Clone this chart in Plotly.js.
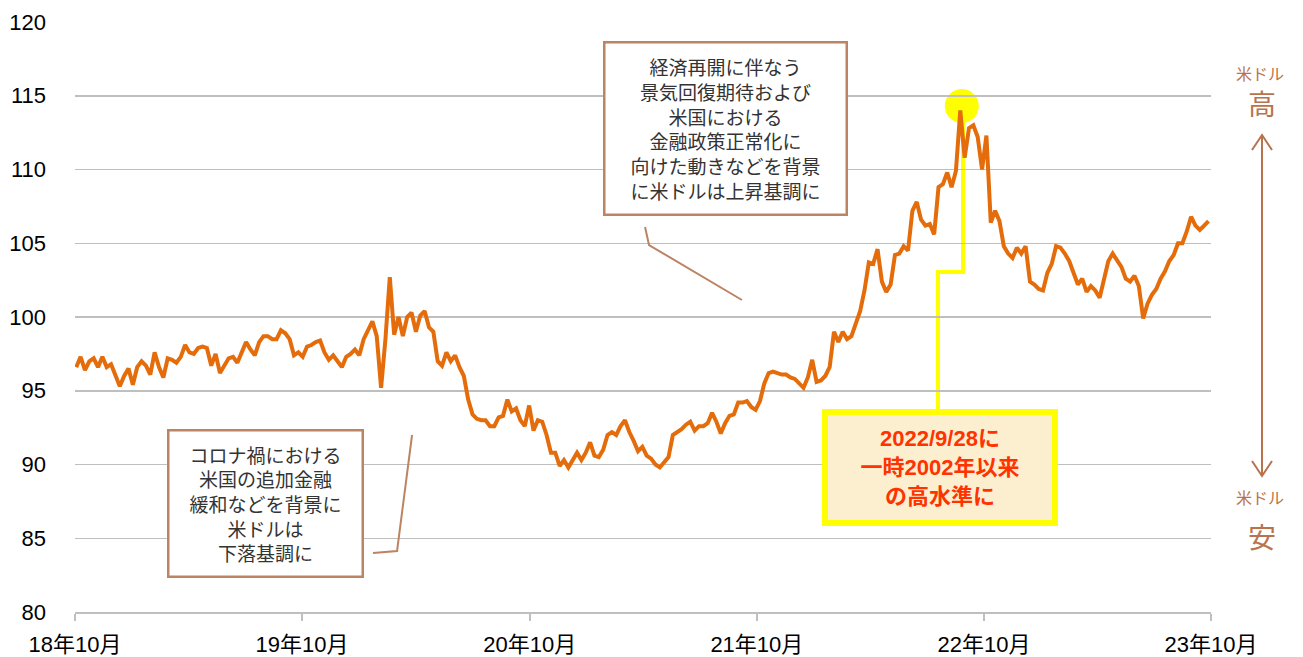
<!DOCTYPE html>
<html>
<head>
<meta charset="utf-8">
<script src="https://cdn.plot.ly/plotly-3.0.1.min.js"></script>
<style>html,body{margin:0;padding:0;background:#fff;}#chart{width:1303px;height:657px;}</style>
</head>
<body>
<div id="chart"></div>
<script>
// Weekly US dollar index readings (Fridays), first week ending 2018-11-02
const startDate = '2018-11-02';
const stepDays = 7;
const dollarIndex = [
  96.6, 97.3, 96.4, 97.0, 97.2, 96.6, 97.3, 96.6, 96.8, 96.0,
  95.3, 96.0, 96.5, 95.4, 96.6, 97.0, 96.7, 96.1, 97.6, 96.6,
  95.9, 97.2, 97.1, 96.9, 97.3, 98.1, 97.6, 97.5, 97.9, 98.0,
  97.9, 96.7, 97.5, 96.2, 96.7, 97.2, 97.3, 96.9, 97.6, 98.3,
  97.8, 97.4, 98.3, 98.7, 98.7, 98.5, 98.5, 99.1, 98.9, 98.5,
  97.4, 97.6, 97.3, 98.0, 98.1, 98.3, 98.4, 97.6, 97.1, 97.4,
  97.0, 96.6, 97.3, 97.5, 97.8, 97.4, 98.5, 99.1, 99.7, 98.7,
  95.2, 98.5, 102.7, 98.8, 100.0, 98.7, 100.0, 100.3, 99.0, 100.1,
  100.4, 99.3, 99.0, 97.0, 96.7, 97.6, 97.0, 97.4, 96.6, 96.0,
  94.4, 93.4, 93.1, 93.0, 93.0, 92.6, 92.6, 93.2, 93.3, 94.4,
  93.6, 93.8, 93.0, 92.6, 94.0, 92.3, 93.0, 92.9, 92.0, 90.8,
  90.8, 89.9, 90.3, 89.8, 90.3, 90.8, 90.3, 90.8, 91.5, 90.6,
  90.5, 91.0, 92.0, 92.2, 92.0, 92.6, 93.0, 92.2, 91.6, 90.9,
  91.2, 90.6, 90.4, 90.0, 89.8, 90.2, 90.5, 92.0, 92.2, 92.4,
  92.7, 92.9, 92.3, 92.6, 92.6, 92.8, 93.5, 92.9, 92.1, 92.8,
  93.3, 93.4, 94.2, 94.2, 94.3, 93.9, 93.7, 94.3, 95.5, 96.2,
  96.3, 96.2, 96.1, 96.1, 95.9, 95.8, 95.5, 95.2, 95.9, 97.1,
  95.6, 95.7, 96.0, 96.6, 99.0, 98.3, 99.0, 98.5, 98.7, 99.6,
  100.4, 101.8, 103.7, 103.6, 104.6, 102.4, 101.7, 102.2, 104.2, 104.3,
  104.8, 104.5, 107.2, 107.8, 106.6, 106.2, 106.3, 105.6, 108.8, 109.0,
  109.8, 108.8, 109.9, 114.0, 110.8, 112.8, 113.0, 112.2, 110.0, 112.3,
  106.4, 107.2, 106.5, 104.8, 104.3, 104.0, 104.7, 104.3, 104.8, 102.4,
  102.2, 101.9, 101.8, 103.0, 103.6, 104.8, 104.7, 104.3, 103.8, 103.0,
  102.2, 102.6, 101.7, 102.1, 101.8, 101.3, 102.5, 103.8, 104.3, 103.8,
  103.4, 102.6, 102.4, 102.8, 102.1, 99.9, 100.9, 101.5, 101.9, 102.6,
  103.1, 103.8, 104.2, 105.0, 105.0, 105.8, 106.8, 106.2, 105.9, 106.2, 106.5
];
const tickDates = ['2018-10-31','2019-10-31','2020-10-31','2021-10-31','2022-10-31','2023-10-31'];
const tickLabels = ['18年10月','19年10月','20年10月','21年10月','22年10月','23年10月'];
const yTicks = [80, 85, 90, 95, 100, 105, 110, 115, 120];

const upperNote = ['経済再開に伴なう','景気回復期待および','米国における','金融政策正常化に','向けた動きなどを背景','に米ドルは上昇基調に'];
const lowerNote = ['コロナ禍における','米国の追加金融','緩和などを背景に','米ドルは','下落基調に'];
const peakNote = ['2022/9/28に','一時2002年以来','の高水準に'];

const t0 = Date.parse(startDate + 'T00:00:00Z');
const dates = dollarIndex.map((_, i) => new Date(t0 + i * stepDays * 86400000).toISOString().slice(0, 10));

let peakIdx = 0;
dollarIndex.forEach((v, i) => { if (v > dollarIndex[peakIdx]) peakIdx = i; });

const brown = '#BC8462';
const brownText = '#B8734C';
const cjk = '"Noto Sans CJK JP", "Noto Sans", sans-serif';
const tickFont = {family: '"Liberation Sans", Arial, "Noto Sans CJK JP", sans-serif', size: 22, color: '#000'};

const trace = {
  x: dates, y: dollarIndex, type: 'scatter', mode: 'lines',
  line: {color: '#E46C0A', width: 4}, hoverinfo: 'x+y'
};

const layout = {
  width: 1303, height: 657,
  margin: {l: 75, r: 92, t: 22, b: 45},
  paper_bgcolor: '#fff', plot_bgcolor: '#fff',
  showlegend: false,
  xaxis: {
    type: 'date', range: [tickDates[0], tickDates[tickDates.length - 1]],
    tickmode: 'array', tickvals: tickDates, ticktext: tickLabels,
    showgrid: false, zeroline: false,
    showline: true, linecolor: '#BFBFBF', linewidth: 1.5,
    ticks: 'outside', ticklen: 7, tickcolor: '#BFBFBF', tickwidth: 1.5,
    tickfont: tickFont, ticklabelstandoff: 5, fixedrange: true
  },
  yaxis: {
    range: [80, 120], tickmode: 'array', tickvals: yTicks, ticktext: yTicks.map(String),
    showgrid: true, gridcolor: '#BFBFBF', gridwidth: 1.5, zeroline: false, showline: false,
    ticks: '', tickfont: tickFont, ticklabelstandoff: 28, fixedrange: true
  },
  annotations: [
    {xref: 'paper', yref: 'paper', x: 0.5722, y: 0.8203, xanchor: 'center', yanchor: 'middle',
     text: upperNote.join('<br>'), showarrow: false, align: 'center',
     font: {family: cjk, size: 19, color: '#333'},
     bgcolor: '#fff', bordercolor: brown, borderwidth: 2.5, borderpad: 0, width: 240, height: 170},
    {xref: 'paper', yref: 'paper', x: 0.1681, y: 0.1831, xanchor: 'center', yanchor: 'middle',
     text: lowerNote.join('<br>'), showarrow: false, align: 'center',
     font: {family: cjk, size: 19, color: '#333'},
     bgcolor: '#fff', bordercolor: brown, borderwidth: 2.5, borderpad: 0, width: 192, height: 144},
    {xref: 'paper', yref: 'paper', x: 0.7614, y: 0.2449, xanchor: 'center', yanchor: 'middle',
     text: peakNote.map(s => '<b>' + s + '</b>').join('<br>'), showarrow: false, align: 'center',
     font: {family: '"Liberation Sans", Arial, "Noto Sans CJK JP", sans-serif', size: 22, color: '#FF3300'},
     bgcolor: '#FBEFCF', bordercolor: '#FFFF00', borderwidth: 6, borderpad: 0, width: 224, height: 105},
    {xref: 'paper', yref: 'paper', x: 1.0431, y: 0.9136, xanchor: 'center', yanchor: 'middle',
     text: '米ドル', showarrow: false, font: {family: cjk, size: 16, color: brownText}},
    {xref: 'paper', yref: 'paper', x: 1.0449, y: 0.8627, xanchor: 'center', yanchor: 'middle',
     text: '高', showarrow: false, font: {family: cjk, size: 28, color: brownText}},
    {xref: 'paper', yref: 'paper', x: 1.0431, y: 0.1949, xanchor: 'center', yanchor: 'middle',
     text: '米ドル', showarrow: false, font: {family: cjk, size: 16, color: brownText}},
    {xref: 'paper', yref: 'paper', x: 1.0449, y: 0.1288, xanchor: 'center', yanchor: 'middle',
     text: '安', showarrow: false, font: {family: cjk, size: 28, color: brownText}}
  ],
  shapes: [
    {type: 'circle', layer: 'below', xref: 'x', yref: 'y', xsizemode: 'pixel', ysizemode: 'pixel',
     xanchor: dates[peakIdx], yanchor: dollarIndex[peakIdx], x0: -15.5, x1: 18.5, y0: -12.5, y1: 21.5,
     fillcolor: '#FFFF00', line: {width: 0}},
    {type: 'path', layer: 'below', xref: 'paper', yref: 'paper',
     path: 'M0.7597,0.3441 L0.7597,0.5763 L0.7817,0.5763 L0.7817,0.84',
     line: {color: '#FFFF00', width: 4}},
    {type: 'path', xref: 'paper', yref: 'paper',
     path: 'M0.5018,0.6525 L0.5053,0.6220 L0.5871,0.5288', line: {color: brown, width: 2}},
    {type: 'path', xref: 'paper', yref: 'paper',
     path: 'M0.2623,0.1000 L0.2835,0.1034 L0.2967,0.3000', line: {color: brown, width: 2}},
    {type: 'line', xref: 'paper', yref: 'paper', x0: 1.0449, x1: 1.0449, y0: 0.2305, y1: 0.8085,
     line: {color: brownText, width: 2}},
    {type: 'path', xref: 'paper', yref: 'paper',
     path: 'M1.0361,0.7831 L1.0449,0.8085 L1.0537,0.7831', line: {color: brownText, width: 2}},
    {type: 'path', xref: 'paper', yref: 'paper',
     path: 'M1.0361,0.2559 L1.0449,0.2305 L1.0537,0.2559', line: {color: brownText, width: 2}}
  ]
};

Plotly.newPlot('chart', [trace], layout, {displayModeBar: false, staticPlot: true});
</script>
</body>
</html>
